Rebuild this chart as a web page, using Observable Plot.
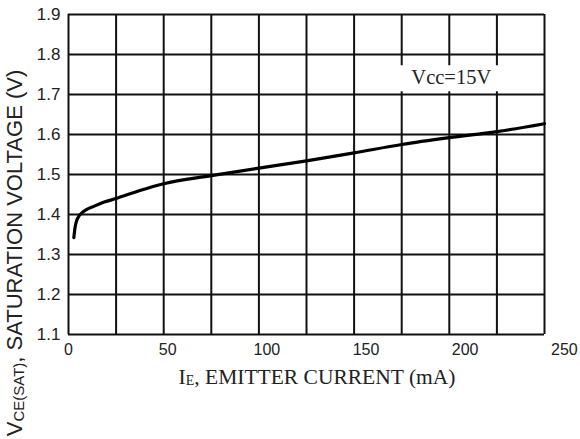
<!DOCTYPE html>
<html>
<head>
<meta charset="utf-8">
<script src="https://cdn.jsdelivr.net/npm/d3@7"></script>
<script src="https://cdn.jsdelivr.net/npm/@observablehq/plot@0.6"></script>
<style>
  html, body { margin: 0; padding: 0; background: #fff; }
  #chart svg { display: block; }
</style>
</head>
<body>
<div id="chart"></div>
<script>
// Grid / tick values
const gridX = [0, 24, 48, 72, 96, 120, 144, 168, 192, 216, 240];
const gridY = [1.1, 1.2, 1.3, 1.4, 1.5, 1.6, 1.7, 1.8, 1.9];
const xTickLabels = [0, 50, 100, 150, 200, 250];
const yTickLabels = [1.1, 1.2, 1.3, 1.4, 1.5, 1.6, 1.7, 1.8, 1.9];

// Curve: emitter current (mA) vs saturation voltage (V)
const current = [2.7, 3.2, 4, 5, 6.5, 9, 13, 18, 24, 36, 48, 72, 96, 120, 144, 168, 192, 216, 240];
const voltage = [1.342, 1.364, 1.383, 1.394, 1.403, 1.412, 1.421, 1.431, 1.440, 1.460, 1.477, 1.497, 1.516, 1.534, 1.554, 1.575, 1.592, 1.607, 1.627];

// Annotation
const noteText = ["Vcc=15V"];
const noteX = [193];
const noteY = [1.742];

const curveData = current.map((c, i) => ({current: c, voltage: voltage[i]}));
const noteData = noteText.map((t, i) => ({text: t, x: noteX[i], y: noteY[i]}));

const ink = "#111";
const sans = "'Liberation Sans', Arial, sans-serif";
const serif = "'Liberation Serif', 'Times New Roman', serif";

const chart = Plot.plot({
  width: 580,
  height: 439,
  marginLeft: 68,
  marginRight: 36,
  marginTop: 14,
  marginBottom: 105,
  style: {fontFamily: sans, background: "#fff", color: "#222"},
  x: {domain: [0, 240], axis: null},
  y: {domain: [1.1, 1.9], axis: null},
  marks: [
    Plot.ruleX(gridX, {stroke: ink, strokeWidth: 2}),
    Plot.ruleY(gridY, {stroke: ink, strokeWidth: 2}),
    Plot.line(curveData, {x: "current", y: "voltage", curve: "monotone-x", stroke: "#000", strokeWidth: 3.2}),
    Plot.text(yTickLabels, {y: d => d, frameAnchor: "left", dx: -8, textAnchor: "end", text: d => d.toFixed(1), fontSize: 17, fill: "#222"}),
    Plot.text(xTickLabels, {x: d => d, frameAnchor: "bottom", dy: 20, textAnchor: "middle", text: d => String(d), fontSize: 16, fill: "#222"}),
    Plot.text(noteData, {x: "x", y: "y", text: "text", fontSize: 20.5, fontFamily: serif, fill: "#222"})
  ]
});

document.getElementById("chart").appendChild(chart);

// White box behind annotation
const svg = d3.select(chart);
svg.selectAll("text").filter(function() { return noteText.includes(this.textContent); }).each(function() {
  const bb = this.getBBox();
  d3.select(this.parentNode).insert("rect", () => this)
    .attr("transform", this.getAttribute("transform"))
    .attr("x", bb.x - 13)
    .attr("y", bb.y - 1)
    .attr("width", bb.width + 26)
    .attr("height", bb.height + 4)
    .attr("fill", "#fff");
});

// Axis titles with subscripts
const xl = svg.append("text")
  .attr("x", 317).attr("y", 384)
  .attr("text-anchor", "middle")
  .attr("font-family", serif)
  .attr("font-size", 21.5)
  .attr("fill", "#222");
xl.append("tspan").text("I");
xl.append("tspan").attr("font-size", 14).attr("dy", 1).text("E");
xl.append("tspan").attr("dy", -1).text(", EMITTER CURRENT (mA)");

const yl = svg.append("text")
  .attr("transform", "translate(22,253) rotate(-90)")
  .attr("text-anchor", "middle")
  .attr("font-family", sans)
  .attr("font-size", 22)
  .attr("fill", "#222");
yl.append("tspan").text("V");
yl.append("tspan").attr("font-size", 15).attr("dy", 2).text("CE(SAT)");
yl.append("tspan").attr("dy", -2).text(", SATURATION VOLTAGE (V)");
</script>
</body>
</html>
